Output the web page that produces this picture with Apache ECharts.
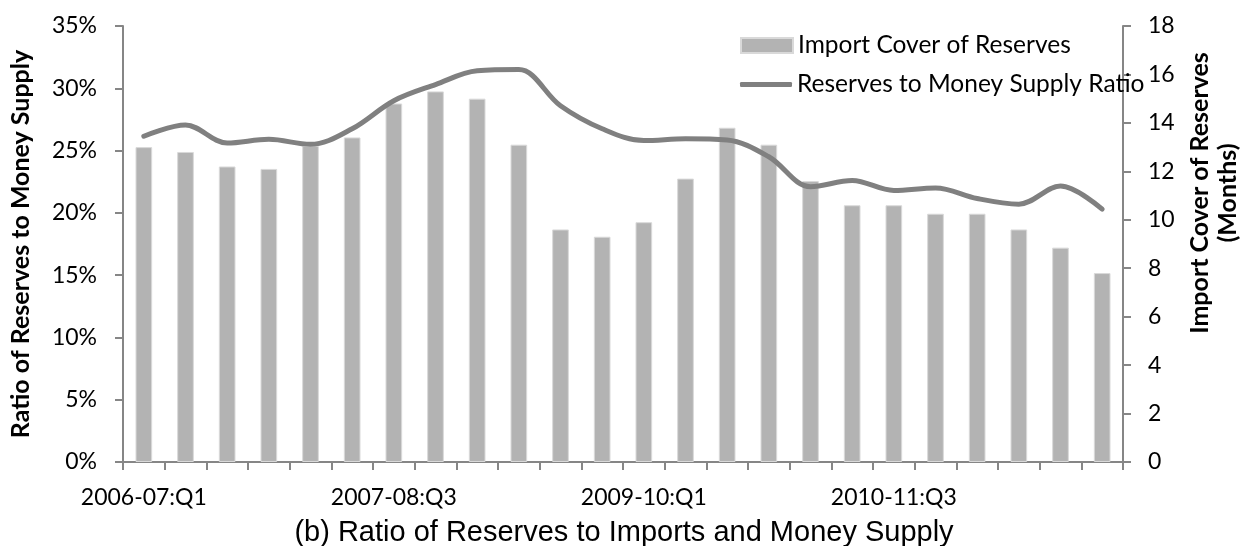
<!DOCTYPE html>
<html>
<head>
<meta charset="utf-8">
<script src="https://cdn.jsdelivr.net/npm/echarts@6/dist/echarts.min.js"></script>
<style>html,body{margin:0;padding:0;background:#fff}#c{width:1244px;height:546px}</style>
</head>
<body>
<div id="c"></div>
<script>
const categories = [
  '2006-07:Q1','2006-07:Q2','2006-07:Q3','2006-07:Q4',
  '2007-08:Q1','2007-08:Q2','2007-08:Q3','2007-08:Q4',
  '2008-09:Q1','2008-09:Q2','2008-09:Q3','2008-09:Q4',
  '2009-10:Q1','2009-10:Q2','2009-10:Q3','2009-10:Q4',
  '2010-11:Q1','2010-11:Q2','2010-11:Q3','2010-11:Q4',
  '2011-12:Q1','2011-12:Q2','2011-12:Q3','2011-12:Q4'
];
// Import cover of reserves (months) - right axis
const importCover = [13.0, 12.8, 12.2, 12.1, 13.05, 13.4, 14.8, 15.3, 15.0, 13.1, 9.6, 9.3,
                     9.9, 11.7, 13.8, 13.1, 11.6, 10.6, 10.6, 10.25, 10.25, 9.6, 8.85, 7.8];
// Reserves to money supply ratio (%) - left axis
const reservesRatio = [26.15, 27.05, 25.6, 25.9, 25.5, 26.75, 29.0, 30.3, 31.4, 31.5, 28.6, 26.75,
                       25.8, 25.95, 25.85, 24.5, 22.1, 22.6, 21.8, 22.0, 21.15, 20.7, 22.15, 20.3];
const leftTicks = {min: 0, max: 35, interval: 5};
const rightTicks = {min: 0, max: 18, interval: 2};

const FONT = 'Lato';
const axisGray = '#868686';
const chart = echarts.init(document.getElementById('c'), null, {renderer: 'canvas'});
chart.setOption({
  animation: false,
  backgroundColor: '#fff',
  grid: {left: 123, right: 121, top: 26, bottom: 84, containLabel: false, outerBoundsMode: 'none'},
  title: {
    text: '(b) Ratio of Reserves to Imports and Money Supply',
    left: 624, textAlign: 'center', top: 518, padding: 0,
    textStyle: {fontFamily: 'Liberation Sans', fontSize: 29, fontWeight: 'normal', color: '#000'}
  },
  legend: [
    {
      data: [{name: 'Import Cover of Reserves', icon: 'rect'}],
      left: 740, top: 33, padding: 0, itemWidth: 52, itemHeight: 15,
      textStyle: {fontFamily: FONT, fontSize: 24.5, color: '#000'}
    },
    {
      data: [{name: 'Reserves to Money Supply Ratio', icon: 'roundRect'}],
      left: 740, top: 72, padding: 0, itemWidth: 52, itemHeight: 5,
      textStyle: {fontFamily: FONT, fontSize: 24.5, color: '#000'}
    }
  ],
  xAxis: {
    type: 'category', data: categories, boundaryGap: true,
    axisLine: {lineStyle: {color: axisGray, width: 2}},
    axisTick: {show: true, interval: 0, length: 8, lineStyle: {color: axisGray, width: 2}},
    axisLabel: {interval: 5, color: '#000', fontFamily: FONT, fontSize: 23, margin: 24}
  },
  yAxis: [
    {
      type: 'value', position: 'left', min: leftTicks.min, max: leftTicks.max, interval: leftTicks.interval,
      name: 'Ratio of Reserves to Money Supply', nameLocation: 'middle', nameGap: 90, nameRotate: 90,
      nameTextStyle: {fontFamily: FONT, fontSize: 25, fontWeight: 'bold', color: '#000'},
      axisLine: {show: true, lineStyle: {color: axisGray, width: 2}},
      axisTick: {show: true, length: 8, lineStyle: {color: axisGray, width: 2}},
      axisLabel: {formatter: '{value}%', color: '#000', fontFamily: FONT, fontSize: 23, margin: 26},
      splitLine: {show: false}
    },
    {
      type: 'value', position: 'right', min: rightTicks.min, max: rightTicks.max, interval: rightTicks.interval,
      name: 'Import Cover of Reserves\n(Months)', nameLocation: 'middle', nameGap: 62, nameRotate: 90,
      nameTextStyle: {fontFamily: FONT, fontSize: 25, fontWeight: 'bold', color: '#000', lineHeight: 28,
                      align: 'center', padding: [0, 0, 0, 102]},
      axisLine: {show: true, lineStyle: {color: axisGray, width: 2}},
      axisTick: {show: true, length: 8, lineStyle: {color: axisGray, width: 2}},
      axisLabel: {color: '#000', fontFamily: FONT, fontSize: 23, margin: 25},
      splitLine: {show: false}
    }
  ],
  series: [
    {
      name: 'Import Cover of Reserves', type: 'bar', yAxisIndex: 1, data: importCover,
      barWidth: '40%', itemStyle: {color: '#b3b3b3', borderColor: '#d9d9d9', borderWidth: 1}, z: 2
    },
    {
      name: 'Reserves to Money Supply Ratio', type: 'line', yAxisIndex: 0, data: reservesRatio,
      smooth: 0.35, symbol: 'none', showSymbol: false,
      lineStyle: {color: '#808080', width: 5, cap: 'round'}, itemStyle: {color: '#808080'}, z: 3
    }
  ]
});
</script>
</body>
</html>
